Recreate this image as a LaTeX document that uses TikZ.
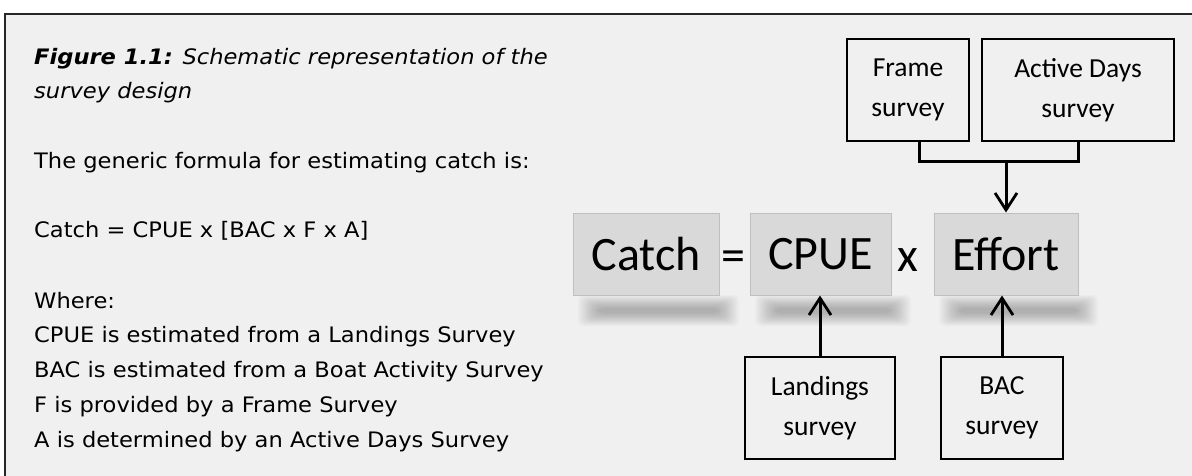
\documentclass[tikz,border=0pt]{standalone}
\usepackage{fontspec}
\setmainfont[FakeStretch=1.06]{DejaVu Sans}
\newfontfamily\carl{Carlito}
\usetikzlibrary{arrows.meta}
\definecolor{panelbg}{HTML}{F0F0F0}
\definecolor{termfill}{HTML}{D9D9D9}
\definecolor{termedge}{HTML}{BFBFBF}
\tikzset{
  txt/.style={anchor=base west, inner sep=0pt, font=\fontsize{21.3}{24}\selectfont},
  term/.style={draw=termedge, line width=1pt, fill=termfill, minimum height=82pt, inner sep=0pt, font=\carl\fontsize{48}{56}\selectfont},
  op/.style={anchor=base, inner sep=0pt, font=\carl\fontsize{48}{56}\selectfont},
  src/.style={draw=black, line width=2.4pt, inner sep=0pt, minimum height=102pt, align=center, font=\carl\fontsize{27.5}{40}\selectfont},
  conn/.style={line width=3pt, -{Straight Barb[length=17pt,width=22pt,line width=2.8pt]}},
  shadlayer/.style={fill=black, fill opacity=0.02, rounded corners=5pt}
}
\begin{document}
\begin{tikzpicture}[x=1pt,y=-1pt]
\useasboundingbox (0,0) rectangle (1192,476);
\fill[white] (0,0) rectangle (1192,476);
\fill[panelbg] (5,14) rectangle (1192,476);
\draw[line width=2pt, black!85] (5,476) -- (5,14) -- (1192,14);

% left text
\node[txt] (t1) at (34,65) {\textbf{\textit{Figure 1.1:}} \textit{Schematic representation of the}};
\node[txt] (t2) at (34,99) {\textit{survey design}};
\node[txt] (t3) at (34,169) {The generic formula for estimating catch is:};
\node[txt] (t4) at (34,237) {Catch = CPUE x [BAC x F x A]};
\node[txt] (t5) at (34,308) {Where:};
\node[txt] (t6) at (34,342) {CPUE is estimated from a Landings Survey};
\node[txt] (t7) at (34,377) {BAC is estimated from a Boat Activity Survey};
\node[txt] (t8) at (34,412) {F is provided by a Frame Survey};
\node[txt] (t9) at (34,447) {A is determined by an Active Days Survey};

% soft shadows under the equation terms
\foreach \l/\r in {578/739, 755/911, 939/1098}{
  \foreach \i in {0,...,13}{
    \fill[shadlayer] (\l+\i*1.6, 295+\i*1.0) rectangle (\r-\i*1.6, 326-\i*1.0);
  }
}

% equation terms
\node[term, minimum width=146pt] (catch) at (646,254) {Catch};
\node[term, minimum width=141pt] (cpue) at (820.5,254) {CPUE};
\node[term, minimum width=144pt] (effort) at (1006,254) {Effort};
\node[op] (eq) at (733,271.5) {=};
\node[op] (times) at (908,271.5) {x};

% survey boxes
\node[src, minimum width=122pt] (frame) at (908,90) {Frame\\survey};
\node[src, minimum width=192pt] (active) at (1078,90) {Active Days\\survey};
\node[src, minimum width=150pt] (land) at (820,408) {Landings\\survey};
\node[src, minimum width=122pt] (bac) at (1002,408) {BAC\\survey};

% connectors
\coordinate (fb) at (919,141);
\coordinate (join) at (1006,162);
\draw[line width=3pt] (frame.south -| fb) |- (join) -| (active.south);
\draw[conn] (join) -- (effort.north);
\draw[conn] (land.north) -- (land.north |- cpue.south);
\draw[conn] (bac.north) -- (bac.north |- effort.south);
\end{tikzpicture}
\end{document}
